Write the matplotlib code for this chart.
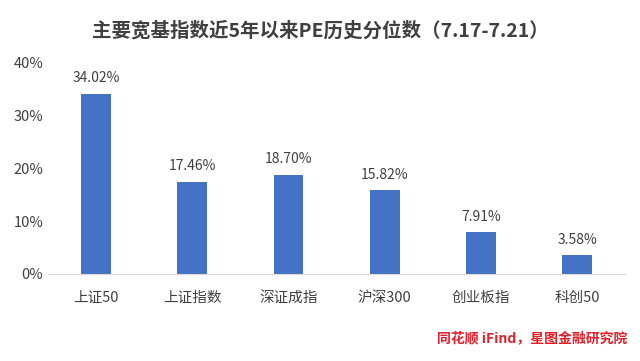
import matplotlib
matplotlib.use("Agg")
import matplotlib.pyplot as plt
from matplotlib.ticker import FuncFormatter

plt.rcParams['font.family'] = ['Noto Sans CJK SC', 'DejaVu Sans']

categories = ["上证50", "上证指数", "深证成指", "沪深300", "创业板指", "科创50"]
values = [34.02, 17.46, 18.70, 15.82, 7.91, 3.58]
yticks = [0, 10, 20, 30, 40]
title = "主要宽基指数近5年以来PE历史分位数（7.17-7.21）"
source = "同花顺 iFind，星图金融研究院"

fig = plt.figure(figsize=(6.4, 3.61), dpi=100)
fig.patch.set_facecolor('white')
ax = fig.add_axes([0.075, 0.241, 0.902, 0.587])

x = range(len(categories))
bars = ax.bar(x, values, width=0.31, color='#4472C4', zorder=2)
for xi, v in zip(x, values):
    ax.text(xi, v + 1.6, f"{v:.2f}%", ha='center', va='bottom', fontsize=10, color='#404040')

ax.set_xlim(-0.5, len(categories) - 0.5)
ax.set_ylim(0, 40)
ax.set_yticks(yticks)
ax.yaxis.set_major_formatter(FuncFormatter(lambda v, p: f"{v:.0f}%"))
ax.set_xticks(list(x))
ax.set_xticklabels(categories)
ax.tick_params(axis='both', length=0, labelsize=10.5, colors='#404040')
ax.tick_params(axis='x', pad=12)
for s in ['top', 'right', 'left']:
    ax.spines[s].set_visible(False)
ax.spines['bottom'].set_color('#D9D9D9')

fig.text(0.5, 0.915, title, ha='center', va='center', fontsize=14, fontweight='bold', color='#404040')
fig.text(0.98, 0.062, source, ha='right', va='center', fontsize=10, color='#E0202A',
         style='italic', fontweight='bold')

fig.savefig("out.png", dpi=100, facecolor='white')
